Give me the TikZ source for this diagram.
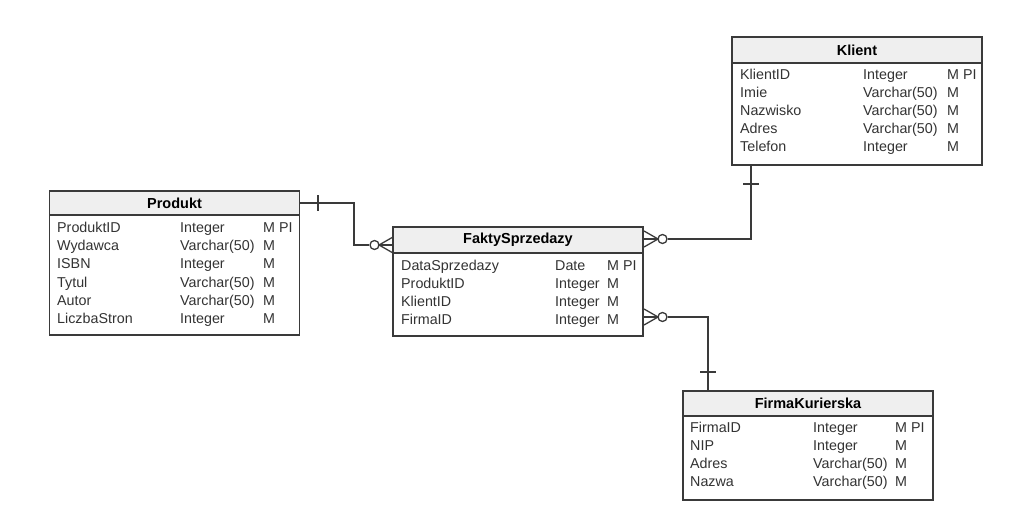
\documentclass[tikz,border=0pt]{standalone}
\usepackage{fontspec}
\setmainfont{Liberation Sans}
\definecolor{ln}{HTML}{3A3A3A}
\definecolor{hd}{HTML}{EFEFEF}
\definecolor{tx}{HTML}{333333}
\begin{document}
\begin{tikzpicture}[x=1pt,y=-1pt,
  box/.style={draw=ln, line width=1.4pt, fill=white, inner sep=0, outer sep=0, anchor=north west, minimum width=250pt},
  hdr/.style={draw=ln, line width=1.4pt, fill=hd, inner sep=0, outer sep=0, anchor=north west, minimum width=250pt, font=\fontsize{14.5}{16}\selectfont\bfseries, text=black},
  cell/.style={anchor=base west, inner sep=0, font=\fontsize{14.3}{16}\selectfont, text=tx},
  conn/.style={draw=ln, line width=1.3pt},
  crow/.style={draw=ln, line width=1.3pt},
  ring/.style={draw=ln, line width=1.3pt, fill=white, circle, inner sep=0, minimum size=9pt}]
\useasboundingbox (0,0) rectangle (1019,521);

% Produkt
\node[box, minimum height=144pt] (produkt) at (49.5,191) {};
\node[hdr, minimum height=24pt] (produkt-h) at (49.5,191) {Produkt};
\foreach \a/\b/\c [count=\i] in {ProduktID/Integer/M PI, Wydawca/Varchar(50)/M, ISBN/Integer/M, Tytul/Varchar(50)/M, Autor/Varchar(50)/M, LiczbaStron/Integer/M}{
  \node[cell] (p-\i-n) at (57,{215+18*\i}) {\a};
  \node[cell] (p-\i-t) at (180,{215+18*\i}) {\b};
  \node[cell] (p-\i-m) at (263,{215+18*\i}) {\c};
}

% FaktySprzedazy
\node[box, minimum height=109pt] (fakty) at (393,227) {};
\node[hdr, minimum height=26pt] (fakty-h) at (393,227) {FaktySprzedazy};
\foreach \a/\b/\c [count=\i] in {DataSprzedazy/Date/M PI, ProduktID/Integer/M, KlientID/Integer/M, FirmaID/Integer/M}{
  \node[cell] (f-\i-n) at (401,{252+18*\i}) {\a};
  \node[cell] (f-\i-t) at (555,{252+18*\i}) {\b};
  \node[cell] (f-\i-m) at (607,{252+18*\i}) {\c};
}

% Klient
\node[box, minimum height=128pt] (klient) at (732,37) {};
\node[hdr, minimum height=26pt] (klient-h) at (732,37) {Klient};
\foreach \a/\b/\c [count=\i] in {KlientID/Integer/M PI, Imie/Varchar(50)/M, Nazwisko/Varchar(50)/M, Adres/Varchar(50)/M, Telefon/Integer/M}{
  \node[cell] (k-\i-n) at (740,{62+18*\i}) {\a};
  \node[cell] (k-\i-t) at (863,{62+18*\i}) {\b};
  \node[cell] (k-\i-m) at (947,{62+18*\i}) {\c};
}

% FirmaKurierska
\node[box, minimum height=109pt] (firma) at (683,391) {};
\node[hdr, minimum height=25pt] (firma-h) at (683,391) {FirmaKurierska};
\foreach \a/\b/\c [count=\i] in {FirmaID/Integer/M PI, NIP/Integer/M, Adres/Varchar(50)/M, Nazwa/Varchar(50)/M}{
  \node[cell] (r-\i-n) at (690,{414+18*\i}) {\a};
  \node[cell] (r-\i-t) at (813,{414+18*\i}) {\b};
  \node[cell] (r-\i-m) at (895,{414+18*\i}) {\c};
}

% connector coordinates
\coordinate (c1a) at (354,203);
\coordinate (c1b) at (354,245);
\coordinate (f1) at (393,245);
\coordinate (t1) at (318,203);
\coordinate (f2) at (644,239);
\coordinate (c2a) at (751,239);
\coordinate (k1) at (751,165);
\coordinate (f3) at (644,317);
\coordinate (c3a) at (708,317);
\coordinate (r1) at (708,391);

% Produkt -- Fakty
\node[ring] (o1) at (374.5,245) {};
\draw[conn] (produkt-h.east) -- (c1a) -- (c1b) -- (o1.west);
\draw[conn] ([yshift=-8pt]t1) -- ([yshift=8pt]t1);
\draw[crow] ([yshift=-8pt]f1) -- ([xshift=-14pt]f1) -- ([yshift=8pt]f1);
\draw[crow] ([xshift=-14pt]f1) -- (f1);

% Fakty -- Klient
\node[ring] (o2) at (662.5,239) {};
\draw[conn] (o2.east) -- (c2a) -- (k1);
\draw[crow] ([yshift=-8pt]f2) -- ([xshift=14pt]f2) -- ([yshift=8pt]f2);
\draw[crow] (f2) -- ([xshift=14pt]f2);
\draw[conn] (743,184) -- (759,184);

% Fakty -- FirmaKurierska
\node[ring] (o3) at (662.5,317) {};
\draw[conn] (o3.east) -- (c3a) -- (r1);
\draw[crow] ([yshift=-8pt]f3) -- ([xshift=14pt]f3) -- ([yshift=8pt]f3);
\draw[crow] (f3) -- ([xshift=14pt]f3);
\draw[conn] (700,372) -- (716,372);
\end{tikzpicture}
\end{document}
